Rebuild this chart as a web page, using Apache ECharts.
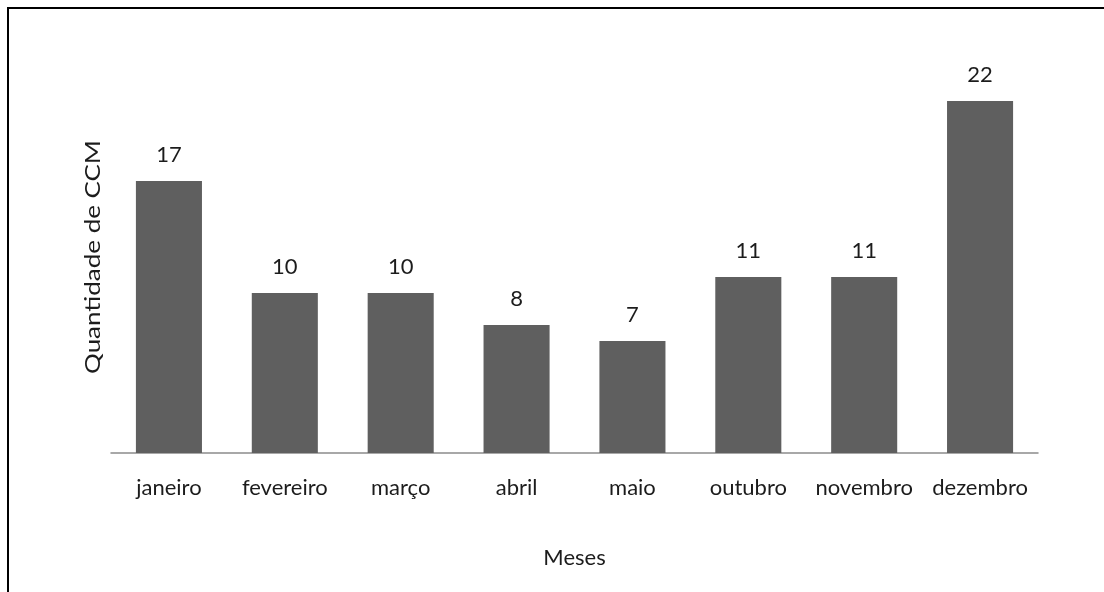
<!DOCTYPE html>
<html><head><meta charset="utf-8">
<script src="https://cdn.jsdelivr.net/npm/echarts@6/dist/echarts.min.js"></script>
<style>html,body{margin:0;padding:0;background:#fff}#c{width:1104px;height:592px}</style>
</head><body><div id="c"></div>
<script>
const categories = ['janeiro','fevereiro','março','abril','maio','outubro','novembro','dezembro'];
const values = [17,10,10,8,7,11,11,22];
const xTitle = 'Meses';
const yTitle = 'Quantidade de CCM';

const chart = echarts.init(document.getElementById('c'));
const font = 'Lato';
const txt = '#1c1c1c';
chart.setOption({
  animation: false,
  backgroundColor: '#fff',
  grid: {left: 111, right: 66, top: 53, bottom: 139},
  xAxis: {
    type: 'category', data: categories,
    axisLine: {lineStyle: {color: '#8c8c8c', width: 1.5}},
    axisTick: {show: false},
    axisLabel: {interval: 0, color: txt, fontFamily: font, fontSize: 22, margin: 24},
    name: xTitle, nameLocation: 'middle', nameGap: 94,
    nameTextStyle: {color: txt, fontFamily: font, fontSize: 22}
  },
  yAxis: {
    type: 'value', min: 0, max: 25,
    axisLine: {show: false}, axisTick: {show: false}, axisLabel: {show: false},
    splitLine: {show: false}
  },
  series: [{
    type: 'bar', data: values, barWidth: '57%',
    itemStyle: {color: '#5f5f5f'},
    label: {show: true, position: 'top', distance: 15, color: txt, fontFamily: font, fontSize: 22}
  }],
  graphic: [
    {type: 'line', shape: {x1: 7, y1: 8, x2: 1104, y2: 8}, style: {stroke: '#000', lineWidth: 2}},
    {type: 'line', shape: {x1: 8, y1: 7, x2: 8, y2: 592}, style: {stroke: '#000', lineWidth: 2}},
    {type: 'text', x: 93, y: 257, rotation: Math.PI / 2, scaleX: 1.18,
     style: {text: yTitle, fill: txt, font: '22px Lato', textAlign: 'center', textVerticalAlign: 'middle'}}
  ]
});
</script></body></html>
